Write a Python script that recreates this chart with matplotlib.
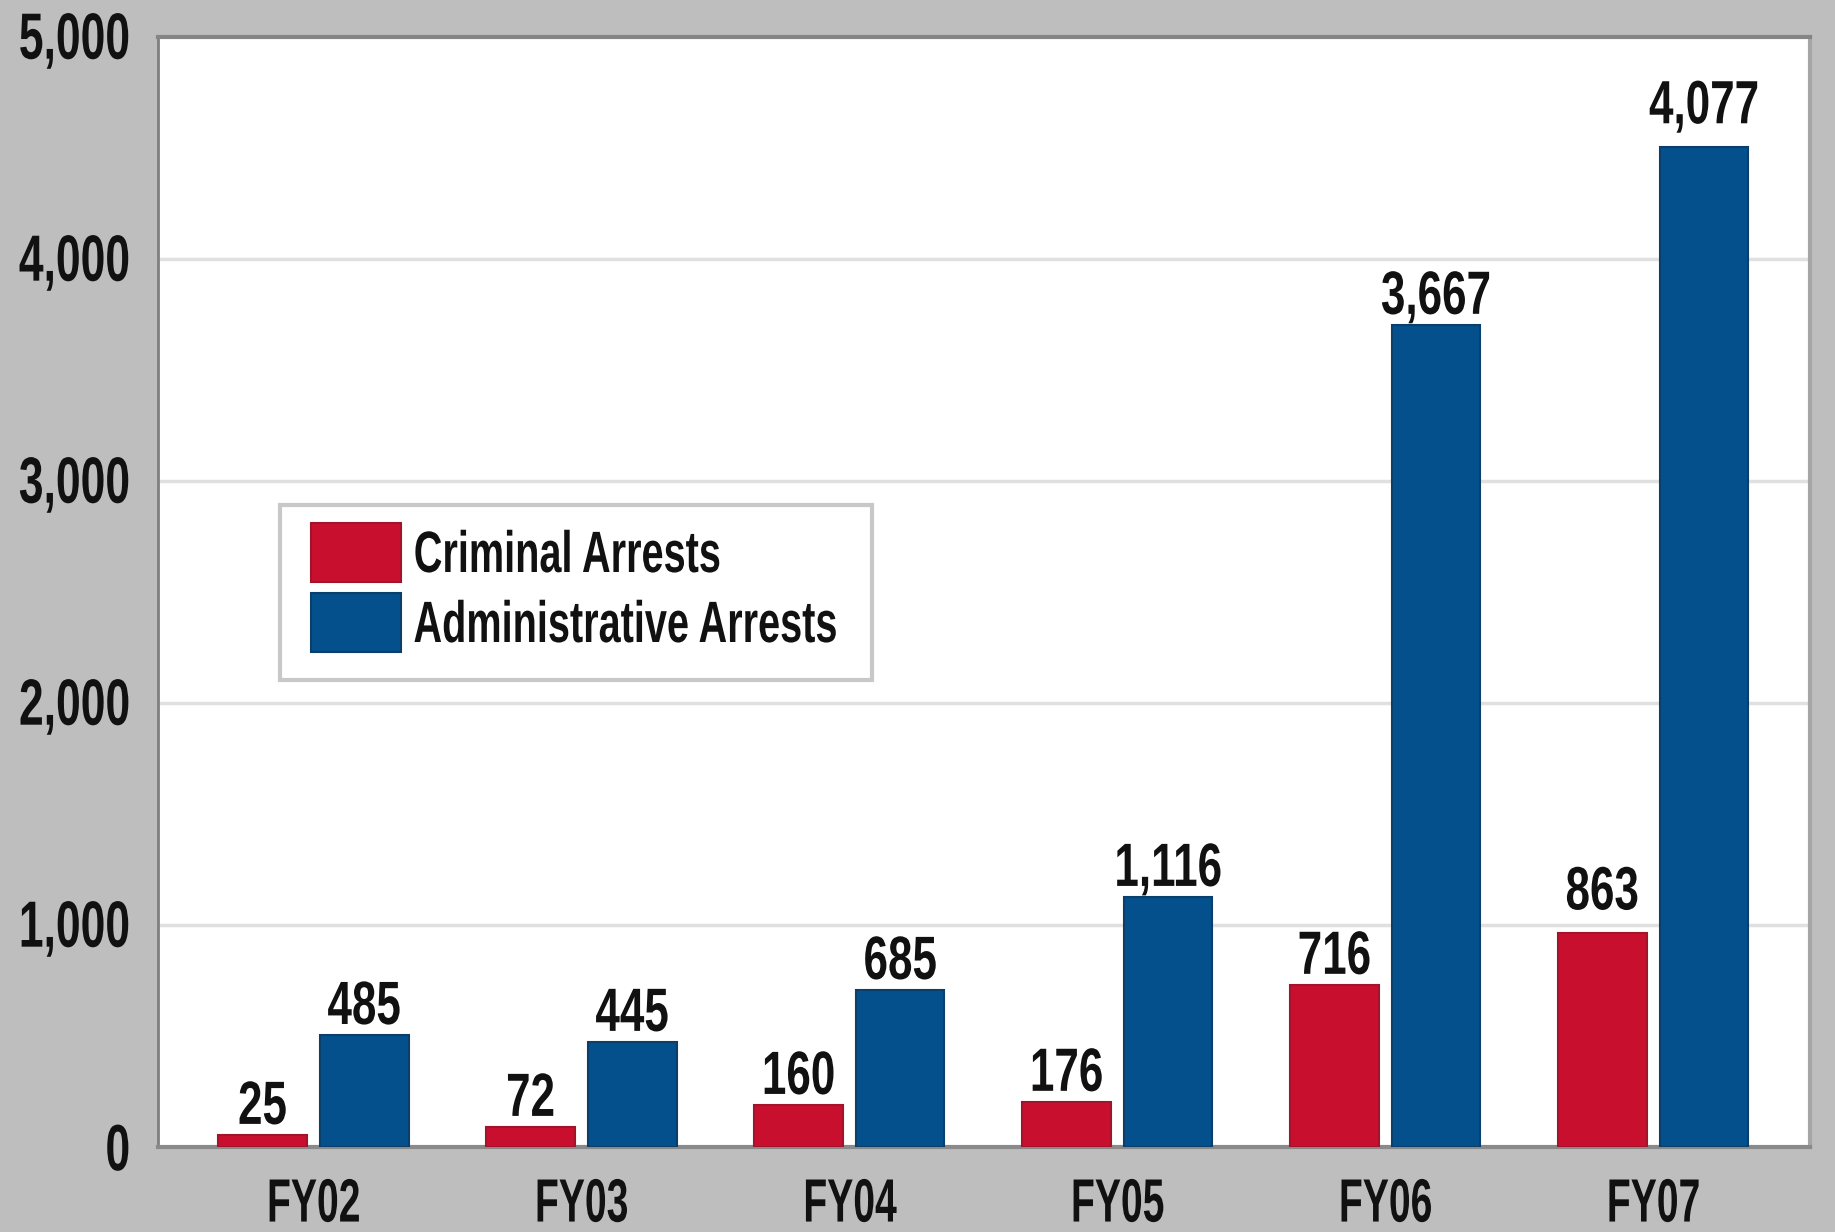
import numpy as np
import matplotlib
matplotlib.use('Agg')
import matplotlib.pyplot as plt
from matplotlib.patches import Rectangle
from matplotlib.patheffects import AbstractPathEffect
from matplotlib.transforms import Affine2D

# data
years = ['FY02', 'FY03', 'FY04', 'FY05', 'FY06', 'FY07']
series = ['Criminal Arrests', 'Administrative Arrests']
# printed values
criminal_labels = [25, 72, 160, 176, 716, 863]
admin_labels = [485, 445, 685, 1116, 3667, 4077]
# bar heights as they are drawn in the picture
criminal_drawn = [54, 90, 189, 203, 730, 964]
admin_drawn = [504, 473, 707, 1126, 3703, 4505]
y_ticks = [0, 1000, 2000, 3000, 4000, 5000]

red = '#c8102e'
blue = '#03508c'
red_edge = '#a3132b'
blue_edge = '#0b3e6b'
ink = '#111111'
W, H = 1835, 1232


# squeeze/stretch text, the original uses a condensed typeface
class Condense(AbstractPathEffect):
    def __init__(self, sx=0.7, anchor='center', sy=1.0):
        super().__init__()
        self.sx = sx
        self.sy = sy
        self.anchor = anchor

    def draw_path(self, renderer, gc, tpath, affine, rgbFace=None):
        ext = tpath.get_extents()
        if self.anchor == 'right':
            cx = ext.x1
        elif self.anchor == 'left':
            cx = ext.x0
        else:
            cx = (ext.x0 + ext.x1) / 2
        cy = (ext.y0 + ext.y1) / 2
        t = Affine2D().translate(-cx, -cy).scale(self.sx, self.sy).translate(cx, cy) + affine
        renderer.draw_path(gc, tpath, t, rgbFace)


plt.rcParams['font.family'] = ['Liberation Sans', 'DejaVu Sans']
plt.rcParams['font.weight'] = 'bold'

fig = plt.figure(figsize=(W / 100, H / 100), dpi=100, facecolor='#bebebf')
ax = fig.add_axes([158 / W, 1 - 1147 / H, (1810 - 158) / W, (1147 - 37) / H])
ax.set_facecolor('white')

x = np.arange(len(years))
off = 0.19
w = 0.33
ax.bar(x - off, criminal_drawn, w, color=red, edgecolor=red_edge, linewidth=1.5, zorder=3)
ax.bar(x + off, admin_drawn, w, color=blue, edgecolor=blue_edge, linewidth=1.5, zorder=3)

# value labels on top of bars (FY07 labels sit a bit higher in the original)
for i in range(len(years)):
    lift = 17 if i == len(years) - 1 else 8
    for xi, h, lab in [(x[i] - off, criminal_drawn[i], criminal_labels[i]),
                       (x[i] + off, admin_drawn[i], admin_labels[i])]:
        ax.annotate(f'{lab:,}', (xi, h), xytext=(0, lift), textcoords='offset points',
                    ha='center', va='baseline', fontsize=44, color=ink, zorder=4,
                    path_effects=[Condense(0.72)])

ax.set_xlim(-0.58, 5.585)
ax.set_ylim(0, 5000)
ax.set_yticks(y_ticks)
ax.set_yticklabels([f'{v:,}' for v in y_ticks])
ax.set_xticks(x)
ax.set_xticklabels(years)
ax.tick_params(axis='y', length=0, pad=20, labelsize=32, labelcolor=ink)
ax.tick_params(axis='x', length=0, pad=22, labelsize=44, labelcolor=ink)
for lbl in ax.get_yticklabels():
    lbl.set_path_effects([Condense(1.0, 'right', sy=1.47)])
for lbl in ax.get_xticklabels():
    lbl.set_path_effects([Condense(0.64)])

for v in y_ticks[1:-1]:
    ax.axhline(v, color='#e0e0e0', linewidth=2.5, zorder=1)

ax.spines['left'].set_color('#7f7f7f')
ax.spines['left'].set_linewidth(2)
ax.spines['top'].set_color('#858585')
ax.spines['top'].set_linewidth(3)
ax.spines['bottom'].set_color('#8a8a8a')
ax.spines['bottom'].set_linewidth(3)
ax.spines['right'].set_color('#a5a5a5')
ax.spines['right'].set_linewidth(3)

# legend drawn by hand so the box fits the condensed text
tf = fig.transFigure
fig.patches.append(Rectangle((280 / W, 1 - 680 / H), (872 - 280) / W, 175 / H, transform=tf,
                             facecolor='white', edgecolor='#c8c8c8', linewidth=3, zorder=5))
for k, (name, fc, ec) in enumerate(zip(series, [red, blue], [red_edge, blue_edge])):
    top = 523 + k * 70
    fig.patches.append(Rectangle((311 / W, 1 - (top + 59) / H), 90 / W, 59 / H, transform=tf,
                                 facecolor=fc, edgecolor=ec, linewidth=1.5, zorder=6))
    fig.text(413 / W, 1 - (top + 49) / H, name, fontsize=42, color=ink, ha='left',
             va='baseline', zorder=7, path_effects=[Condense(0.68, 'left')])

fig.savefig('out.png', dpi=100, facecolor=fig.get_facecolor())
